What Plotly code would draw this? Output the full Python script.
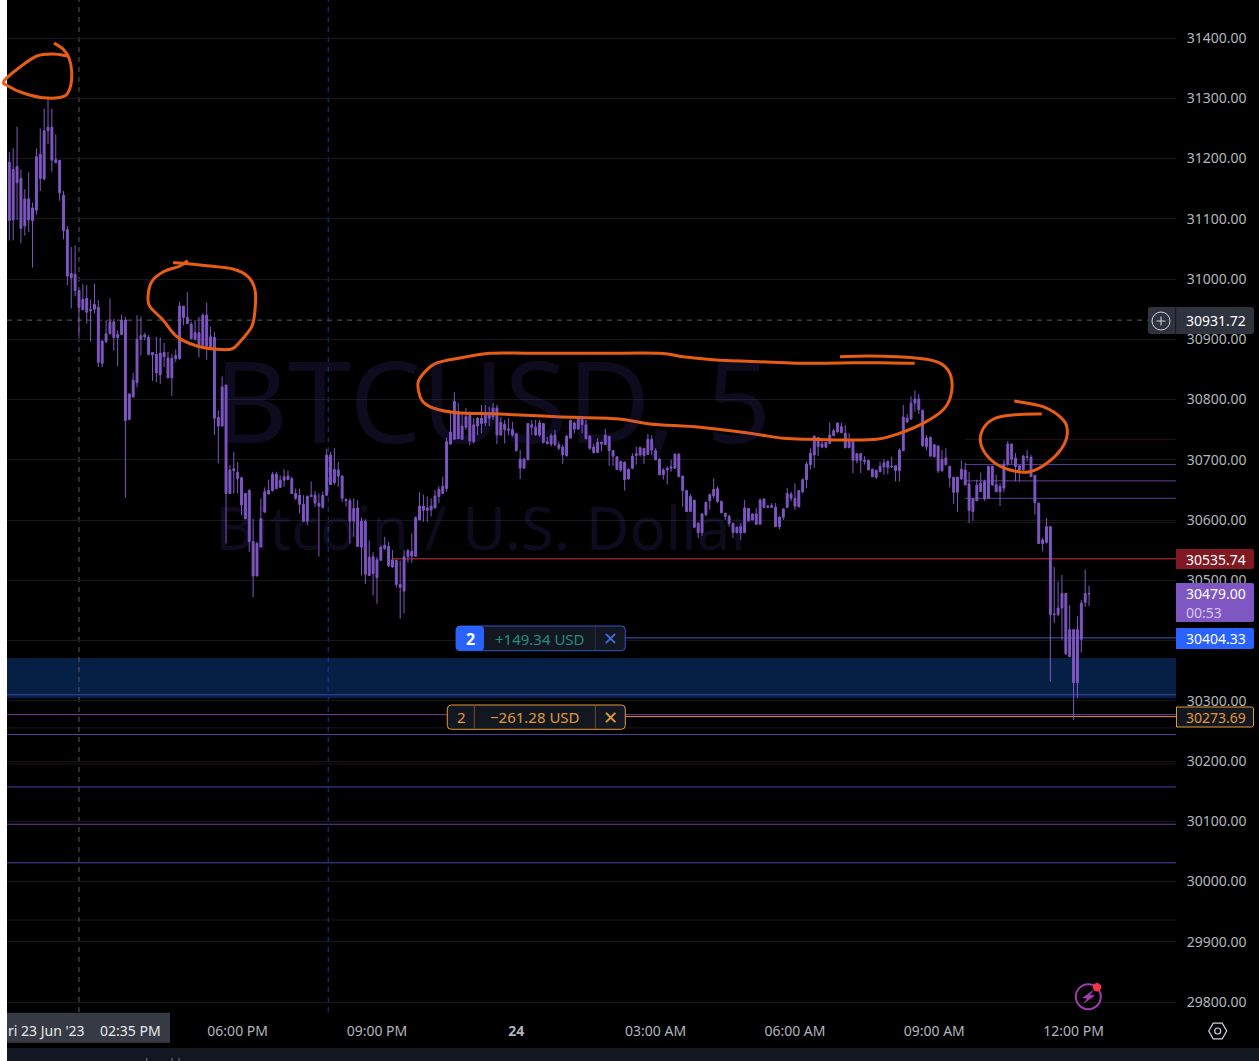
import pandas as pd
import plotly.graph_objects as go

W = 1259
H = 1061

# 5 minute bars. Up and down candles have one colour
# in the picture, so only the top and bottom of each body are kept.
wick_high = [
    31211, 31217, 31253, 31182, 31149, 31177, 31127, 31217, 31250, 31283,
    31300, 31283, 31240, 31197, 31146, 31088, 31053, 31056, 30981, 30992,
    30990, 30966, 30992, 30965, 30898, 30932, 30968, 30934, 30915, 30941,
    30937, 30810, 30844, 30940, 30938, 30911, 30907, 30879, 30904, 30903,
    30894, 30879, 30876, 30883, 30962, 30955, 30978, 30929, 30932, 30937,
    30943, 30961, 30921, 30912, 30782, 30838, 30825, 30691, 30713, 30696,
    30672, 30644, 30651, 30602, 30564, 30636, 30654, 30667, 30680, 30680,
    30674, 30684, 30682, 30672, 30652, 30652, 30641, 30641, 30664, 30648,
    30644, 30647, 30718, 30713, 30719, 30696, 30674, 30636, 30636, 30636,
    30633, 30604, 30601, 30566, 30547, 30539, 30558, 30572, 30564, 30550,
    30534, 30533, 30550, 30552, 30578, 30606, 30646, 30642, 30639, 30636,
    30650, 30656, 30672, 30737, 30780, 30812, 30794, 30780, 30786, 30780,
    30769, 30771, 30791, 30791, 30788, 30794, 30791, 30771, 30766, 30769,
    30763, 30744, 30716, 30703, 30761, 30766, 30766, 30766, 30761, 30738,
    30744, 30750, 30730, 30725, 30741, 30767, 30763, 30773, 30771, 30766,
    30741, 30727, 30736, 30730, 30751, 30739, 30716, 30705, 30699, 30697,
    30686, 30711, 30722, 30722, 30719, 30743, 30741, 30719, 30703, 30686,
    30689, 30700, 30711, 30711, 30673, 30649, 30643, 30633, 30595, 30611,
    30631, 30644, 30669, 30656, 30632, 30612, 30609, 30596, 30589, 30595,
    30633, 30620, 30611, 30620, 30636, 30636, 30625, 30628, 30628, 30606,
    30620, 30653, 30647, 30661, 30650, 30669, 30697, 30719, 30741, 30737,
    30733, 30730, 30762, 30751, 30762, 30761, 30758, 30744, 30730, 30711,
    30711, 30706, 30700, 30686, 30684, 30697, 30701, 30699, 30705, 30690,
    30719, 30791, 30776, 30805, 30815, 30809, 30783, 30741, 30739, 30726,
    30723, 30716, 30719, 30690, 30671, 30672, 30699, 30695, 30680, 30636,
    30667, 30679, 30667, 30690, 30690, 30675, 30661, 30700, 30731, 30727,
    30711, 30692, 30708, 30716, 30708, 30675, 30629, 30570, 30603, 30590,
    30522, 30498, 30509, 30478, 30459, 30418, 30440, 30467, 30518, 30491,
]
wick_low = [
    31064, 31064, 31098, 31059, 31072, 31078, 31019, 31107, 31146, 31164,
    31224, 31178, 31193, 31130, 31066, 30990, 30951, 30971, 30904, 30949,
    30926, 30896, 30943, 30854, 30854, 30893, 30909, 30881, 30855, 30907,
    30637, 30766, 30804, 30820, 30873, 30898, 30873, 30831, 30829, 30826,
    30854, 30835, 30806, 30862, 30866, 30923, 30926, 30900, 30898, 30870,
    30890, 30866, 30885, 30741, 30694, 30755, 30561, 30644, 30644, 30644,
    30608, 30602, 30547, 30472, 30507, 30555, 30613, 30643, 30647, 30652,
    30654, 30655, 30666, 30644, 30633, 30611, 30597, 30591, 30638, 30622,
    30539, 30619, 30641, 30658, 30659, 30655, 30630, 30622, 30561, 30572,
    30555, 30508, 30494, 30508, 30475, 30461, 30533, 30550, 30522, 30521,
    30488, 30436, 30445, 30529, 30529, 30539, 30600, 30597, 30597, 30606,
    30620, 30628, 30647, 30647, 30725, 30733, 30734, 30733, 30750, 30724,
    30727, 30741, 30744, 30756, 30756, 30766, 30726, 30740, 30727, 30741,
    30738, 30714, 30668, 30686, 30699, 30741, 30740, 30738, 30727, 30725,
    30722, 30722, 30716, 30693, 30705, 30736, 30744, 30750, 30744, 30734,
    30716, 30710, 30711, 30714, 30725, 30690, 30690, 30683, 30680, 30649,
    30667, 30684, 30692, 30705, 30693, 30708, 30708, 30699, 30675, 30667,
    30659, 30680, 30686, 30671, 30622, 30614, 30614, 30586, 30570, 30573,
    30606, 30617, 30636, 30628, 30611, 30600, 30589, 30570, 30578, 30567,
    30579, 30597, 30600, 30592, 30593, 30620, 30620, 30620, 30589, 30585,
    30600, 30620, 30631, 30617, 30621, 30644, 30653, 30684, 30686, 30706,
    30719, 30719, 30727, 30739, 30745, 30744, 30719, 30719, 30678, 30694,
    30678, 30692, 30683, 30671, 30668, 30680, 30675, 30676, 30686, 30664,
    30664, 30715, 30761, 30766, 30780, 30776, 30722, 30716, 30705, 30704,
    30678, 30680, 30690, 30654, 30627, 30614, 30667, 30658, 30595, 30599,
    30631, 30647, 30632, 30636, 30657, 30646, 30623, 30646, 30689, 30693,
    30664, 30664, 30683, 30697, 30671, 30609, 30560, 30548, 30561, 30332,
    30429, 30440, 30401, 30376, 30372, 30268, 30304, 30380, 30456, 30457,
]
body_top = [
    31194, 31182, 31187, 31167, 31133, 31133, 31118, 31203, 31207, 31246,
    31252, 31252, 31198, 31197, 31139, 31082, 31009, 31008, 30981, 30966,
    30968, 30949, 30958, 30953, 30897, 30909, 30929, 30929, 30908, 30932,
    30932, 30809, 30832, 30900, 30906, 30907, 30903, 30878, 30875, 30877,
    30878, 30869, 30868, 30873, 30955, 30955, 30936, 30925, 30911, 30911,
    30940, 30940, 30904, 30903, 30770, 30821, 30824, 30683, 30685, 30679,
    30670, 30644, 30649, 30564, 30561, 30602, 30647, 30649, 30676, 30676,
    30666, 30672, 30673, 30669, 30644, 30641, 30626, 30639, 30641, 30641,
    30628, 30641, 30708, 30708, 30684, 30683, 30673, 30634, 30632, 30619,
    30620, 30598, 30598, 30538, 30539, 30534, 30555, 30558, 30556, 30534,
    30533, 30493, 30539, 30549, 30548, 30604, 30623, 30623, 30620, 30623,
    30640, 30651, 30656, 30730, 30746, 30797, 30780, 30756, 30772, 30774,
    30758, 30769, 30769, 30774, 30774, 30786, 30786, 30762, 30759, 30751,
    30750, 30743, 30701, 30701, 30760, 30758, 30754, 30761, 30760, 30730,
    30740, 30741, 30725, 30721, 30739, 30765, 30761, 30771, 30767, 30758,
    30739, 30721, 30729, 30729, 30741, 30739, 30715, 30705, 30697, 30696,
    30684, 30706, 30710, 30720, 30719, 30734, 30734, 30715, 30701, 30683,
    30686, 30688, 30709, 30709, 30673, 30649, 30639, 30633, 30595, 30610,
    30629, 30642, 30651, 30652, 30631, 30611, 30606, 30594, 30588, 30589,
    30620, 30619, 30610, 30610, 30633, 30635, 30623, 30624, 30621, 30605,
    30618, 30644, 30643, 30636, 30649, 30667, 30693, 30711, 30739, 30737,
    30726, 30729, 30741, 30748, 30761, 30755, 30744, 30733, 30730, 30710,
    30710, 30699, 30699, 30684, 30682, 30689, 30695, 30697, 30689, 30690,
    30716, 30771, 30769, 30794, 30801, 30801, 30782, 30736, 30737, 30725,
    30723, 30701, 30703, 30689, 30671, 30671, 30684, 30683, 30660, 30635,
    30658, 30661, 30664, 30689, 30689, 30659, 30656, 30693, 30726, 30726,
    30703, 30690, 30706, 30705, 30704, 30674, 30628, 30567, 30589, 30589,
    30444, 30454, 30478, 30478, 30418, 30418, 30418, 30462, 30478, 30478,
]
body_bottom = [
    31097, 31098, 31160, 31084, 31088, 31098, 31097, 31114, 31167, 31166,
    31246, 31197, 31193, 31143, 31080, 31005, 31002, 30981, 30953, 30949,
    30945, 30947, 30950, 30862, 30860, 30896, 30909, 30903, 30903, 30908,
    30765, 30767, 30804, 30828, 30900, 30904, 30875, 30874, 30844, 30841,
    30871, 30836, 30836, 30868, 30868, 30936, 30926, 30901, 30900, 30890,
    30890, 30889, 30887, 30769, 30756, 30756, 30644, 30644, 30682, 30669,
    30625, 30602, 30564, 30507, 30507, 30555, 30613, 30643, 30649, 30652,
    30654, 30666, 30667, 30644, 30636, 30626, 30598, 30598, 30639, 30628,
    30623, 30621, 30641, 30659, 30662, 30673, 30636, 30632, 30598, 30598,
    30556, 30555, 30510, 30508, 30511, 30504, 30533, 30553, 30524, 30522,
    30493, 30488, 30482, 30539, 30540, 30540, 30600, 30616, 30616, 30617,
    30620, 30639, 30644, 30652, 30726, 30734, 30735, 30734, 30754, 30731,
    30730, 30756, 30760, 30761, 30769, 30771, 30741, 30741, 30750, 30749,
    30741, 30715, 30686, 30686, 30700, 30754, 30741, 30741, 30729, 30727,
    30726, 30725, 30719, 30708, 30707, 30736, 30751, 30751, 30758, 30735,
    30719, 30712, 30712, 30726, 30725, 30715, 30706, 30684, 30683, 30667,
    30668, 30686, 30707, 30708, 30707, 30709, 30716, 30700, 30675, 30675,
    30683, 30686, 30686, 30672, 30649, 30614, 30614, 30588, 30579, 30579,
    30609, 30632, 30640, 30631, 30612, 30606, 30594, 30579, 30579, 30579,
    30579, 30599, 30600, 30593, 30593, 30621, 30621, 30621, 30589, 30589,
    30604, 30621, 30636, 30623, 30622, 30647, 30667, 30692, 30708, 30722,
    30721, 30721, 30727, 30740, 30746, 30745, 30720, 30720, 30699, 30699,
    30699, 30697, 30683, 30672, 30671, 30680, 30688, 30687, 30688, 30682,
    30682, 30715, 30763, 30768, 30794, 30783, 30723, 30722, 30706, 30705,
    30682, 30682, 30692, 30670, 30646, 30646, 30668, 30658, 30616, 30614,
    30632, 30647, 30635, 30636, 30658, 30647, 30647, 30653, 30693, 30701,
    30689, 30683, 30683, 30704, 30672, 30629, 30561, 30561, 30563, 30443,
    30443, 30443, 30454, 30378, 30373, 30330, 30330, 30402, 30463, 30477,
]
times = pd.date_range("2023-06-23 13:05", periods=len(wick_high), freq="5min")

time_ticks = ["2023-06-23 18:00", "2023-06-23 21:00", "2023-06-24 00:00", "2023-06-24 03:00",
              "2023-06-24 06:00", "2023-06-24 09:00", "2023-06-24 12:00"]
time_labels = ["06:00 PM", "09:00 PM", "<b>24</b>", "03:00 AM", "06:00 AM", "09:00 AM", "12:00 PM"]

crosshair_price = 30931.72
stop_price = 30535.74
last_price = 30479.00
countdown = "00:53"
profit_price = 30404.33
loss_price = 30273.69
qty = "2"
profit_text = "+149.34 USD"
loss_text = "\u2212261.28 USD"

zone_top = 30371
zone_bottom = 30304
full_levels = [30310, 30277, 30244, 30157, 30095, 30031]
full_colors = ["#4743a8", "#76409c", "#54409f", "#4744a8", "#6b3a98", "#4744a8"]
faint_levels = [30255, 30195, 29936]
short_levels = [30692, 30665, 30636]
short_colors = ["#54429f", "#5f429f", "#54429f"]
short_faint_levels = [30734, 30596]

BG = "#000000"
PANEL = "#131722"
LABEL = "#b2b5be"
PURPLE = "#7e57c2"
RED = "#801922"
BLUE = "#2962ff"
ORANGE = "#e09a35"
INK = "#e85d14"
FONT = "Noto Sans"

PLOT_L, PLOT_R, PLOT_B = 7, 1176, 1012


def fx(x):
    return x / W


def fy(y):
    return 1 - y / H


def box(x0, y0, x1, y1, fill, line=None, r=3, r_left=None):
    # rounded rectangle given in screen pixels
    rl = r if r_left is None else r_left
    p = (f"M {fx(x0 + rl)} {fy(y0)} L {fx(x1 - r)} {fy(y0)} Q {fx(x1)} {fy(y0)} {fx(x1)} {fy(y0 + r)} "
         f"L {fx(x1)} {fy(y1 - r)} Q {fx(x1)} {fy(y1)} {fx(x1 - r)} {fy(y1)} "
         f"L {fx(x0 + rl)} {fy(y1)} Q {fx(x0)} {fy(y1)} {fx(x0)} {fy(y1 - rl)} "
         f"L {fx(x0)} {fy(y0 + rl)} Q {fx(x0)} {fy(y0)} {fx(x0 + rl)} {fy(y0)} Z")
    return dict(type="path", path=p, xref="paper", yref="paper", fillcolor=fill, layer="above",
                line=dict(color=line, width=1) if line else dict(width=0))


def seg(x0, y0, x1, y1, color, width=1):
    return dict(type="line", xref="paper", yref="paper", x0=fx(x0), y0=fy(y0), x1=fx(x1), y1=fy(y1),
                layer="above", line=dict(color=color, width=width))


def circle(cx, cy, r, line=None, fill=None, width=1.5):
    return dict(type="circle", xref="paper", yref="paper", x0=fx(cx - r), x1=fx(cx + r), y0=fy(cy - r), y1=fy(cy + r),
                layer="above", fillcolor=fill, line=dict(color=line, width=width) if line else dict(width=0))


def poly(points, color, width=1.0, fill=None):
    p = "M " + " L ".join(f"{fx(x)} {fy(y)}" for x, y in points) + " Z"
    return dict(type="path", path=p, xref="paper", yref="paper", layer="above", fillcolor=fill,
                line=dict(color=color, width=width) if width else dict(width=0))


def ink(points):
    # hand drawn marker stroke, smoothed through its points (Catmull-Rom)
    p = f"M {fx(points[0][0])} {fy(points[0][1])}"
    for i in range(len(points) - 1):
        a = points[max(i - 1, 0)]
        b = points[i]
        c = points[i + 1]
        d = points[min(i + 2, len(points) - 1)]
        c1 = (b[0] + (c[0] - a[0]) / 6, b[1] + (c[1] - a[1]) / 6)
        c2 = (c[0] - (d[0] - b[0]) / 6, c[1] - (d[1] - b[1]) / 6)
        p += f" C {fx(c1[0])} {fy(c1[1])} {fx(c2[0])} {fy(c2[1])} {fx(c[0])} {fy(c[1])}"
    return dict(type="path", path=p, xref="paper", yref="paper", layer="above",
                line=dict(color=INK, width=3))


def text(x, y, s, color=LABEL, size=14, anchor="center", font=FONT):
    return dict(xref="paper", yref="paper", x=fx(x), y=fy(y), text=s, showarrow=False, xanchor=anchor,
                yanchor="middle", font=dict(family=font, size=size, color=color), borderpad=0)


def price_line(price, color, width=1, x0=None):
    if x0 is None:
        return dict(type="line", xref="x domain", yref="y", x0=0, x1=1, y0=price, y1=price, layer="below",
                    line=dict(color=color, width=width))
    return dict(type="line", xref="x domain", yref="y", x0=x0, x1=1, y0=price, y1=price, layer="below",
                line=dict(color=color, width=width))


fig = go.Figure(go.Candlestick(
    x=times, open=body_bottom, close=body_top, high=wick_high, low=wick_low,
    increasing=dict(fillcolor=PURPLE, line=dict(color=PURPLE, width=1)),
    decreasing=dict(fillcolor=PURPLE, line=dict(color=PURPLE, width=1)),
    whiskerwidth=0, showlegend=False))

shapes = []
# blue zone and all the horizontal levels, behind the candles
shapes.append(dict(type="rect", xref="x domain", yref="y", x0=0, x1=1, y0=zone_bottom, y1=zone_top, layer="below",
                   fillcolor="#051f45", line=dict(width=0)))
for lvl, c in zip(full_levels, full_colors):
    shapes.append(price_line(lvl, c))
for lvl in faint_levels:
    shapes.append(price_line(lvl, "#241414"))
for lvl, c in zip(short_levels, short_colors):
    shapes.append(price_line(lvl, c, x0=(965 - PLOT_L) / (PLOT_R - PLOT_L)))
for lvl in short_faint_levels:
    shapes.append(price_line(lvl, "#241414", x0=(965 - PLOT_L) / (PLOT_R - PLOT_L)))
shapes.append(price_line(stop_price, "#8a2229", 1.5, x0=(392 - PLOT_L) / (PLOT_R - PLOT_L)))
shapes.append(price_line(profit_price, "#3f5fc4", 1, x0=(625 - PLOT_L) / (PLOT_R - PLOT_L)))
shapes.append(price_line(loss_price, ORANGE, 1, x0=(625 - PLOT_L) / (PLOT_R - PLOT_L)))

# crosshair and session line
shapes.append(dict(type="line", xref="x domain", yref="y", x0=0, x1=(1148 - PLOT_L) / (PLOT_R - PLOT_L),
                   y0=crosshair_price, y1=crosshair_price, layer="below",
                   line=dict(color="#5a5d66", width=1, dash="5px,5px")))
shapes.append(dict(type="line", xref="x", yref="y domain", x0="2023-06-23 14:35", x1="2023-06-23 14:35", y0=0, y1=1,
                   layer="below", line=dict(color="#5a5d66", width=1, dash="5px,5px")))
shapes.append(dict(type="line", xref="x", yref="y domain", x0="2023-06-23 19:57", x1="2023-06-23 19:57", y0=0, y1=1,
                   layer="below", line=dict(color="#23349a", width=1, dash="5px,5px")))

# white strip on the left and the panel along the bottom
shapes.append(dict(type="rect", xref="paper", yref="paper", x0=0, x1=fx(PLOT_L), y0=0, y1=1, layer="above",
                   fillcolor="#ffffff", line=dict(width=0)))
shapes.append(dict(type="rect", xref="paper", yref="paper", x0=fx(PLOT_L), x1=1, y0=0, y1=fy(1048), layer="above",
                   fillcolor=PANEL, line=dict(width=0)))
shapes.append(seg(146.7, 1058, 146.7, 1061, "#787b86"))
shapes.append(seg(172, 1058, 172, 1061, "#787b86"))
shapes.append(seg(179, 1058, 179, 1061, "#787b86"))

# hand drawn circles, the first one runs over the white strip
shapes.append(ink([(54, 43), (63, 49), (69, 58), (71.7, 72), (70, 88), (63, 96.7), (43, 97.7), (23, 93), (8, 86), (4, 81),
                   (20, 67), (37, 56), (53, 54), (67, 56)]))
shapes.append(ink([(173, 262.7), (183, 263.3), (207, 265.7), (233, 269), (248, 276.7), (255, 290), (255, 310),
                   (251.7, 326.7), (240, 341.7), (231.7, 349), (217, 349.3), (197, 346), (177, 336.7), (163, 320),
                   (150, 306.7), (148, 296.7), (151.7, 281.7), (163, 272), (180, 266), (187.7, 260.7)]))
shapes.append(ink([(914.7, 363.3), (880, 362.7), (840, 363), (800, 363.3), (766.7, 362), (716.7, 360), (683, 356.7),
                   (660, 353.3), (600, 353.3), (533, 353.3), (490, 353.3), (460, 358), (436.7, 363), (425, 371.7),
                   (418, 383), (421.7, 400), (433, 408), (456.7, 412.7), (500, 414), (556.7, 416.7), (616.7, 418.7),
                   (650, 424), (700, 427.3), (750, 433.3), (783, 438.3), (813, 439.3), (846.7, 440), (876.7, 439.3),
                   (896.7, 434.3), (923, 423.3), (943, 410), (951, 395), (951, 376.7), (943, 365), (926.7, 359.3),
                   (896.7, 356.7), (866.7, 356), (840, 356.7)]))
shapes.append(ink([(1041.7, 414), (1013, 415), (993, 419.3), (981.7, 431.7), (981.7, 446.7), (993, 461.7), (1010, 470),
                   (1030, 471.7), (1046.7, 463.3), (1061.7, 448.3), (1067.3, 433.3), (1063.3, 420), (1043, 406.7),
                   (1014.3, 401)]))

# price scale labels
shapes.append(box(1148, 307, 1254, 334, "#2f333e", r=3))
shapes.append(seg(1175.7, 307, 1175.7, 334, "#14171e"))
shapes.append(circle(1161, 321, 9, line="#d1d4dc", width=1))
shapes.append(seg(1156.5, 321, 1165.5, 321, "#d1d4dc"))
shapes.append(seg(1161, 316.5, 1161, 325.5, "#d1d4dc"))
shapes.append(box(1176, 549, 1254, 569, RED, r=2, r_left=0))
shapes.append(box(1176, 583, 1254, 622, PURPLE, r=2, r_left=0))
shapes.append(box(1176, 628, 1254, 649, BLUE, r=2, r_left=0))
shapes.append(box(1176.5, 707, 1253.5, 727, PANEL, line=ORANGE, r=2, r_left=0))

# order tags
shapes.append(box(456, 626, 625.3, 650.7, PANEL, line="#3056c8", r=4))
shapes.append(box(456, 626, 484, 650.7, BLUE, r=4))
shapes.append(seg(595.3, 626, 595.3, 650.7, "#2b3040"))
shapes.append(box(447.3, 705, 625.3, 729.3, PANEL, line=ORANGE, r=4))
shapes.append(seg(474.3, 705, 474.3, 729.3, "#6b5330"))
shapes.append(seg(595.3, 705, 595.3, 729.3, "#6b5330"))

# time scale label
shapes.append(dict(type="rect", xref="paper", yref="paper", x0=fx(PLOT_L), x1=fx(170), y0=fy(1042.7), y1=fy(1012.7),
                   layer="above", fillcolor="#363a45", line=dict(width=0)))

# icons: settings hexagon, lightning badge
shapes.append(poly([(1208.7, 1031), (1213.2, 1023.2), (1222.2, 1023.2), (1226.7, 1031), (1222.2, 1038.8), (1213.2, 1038.8)],
                   "#d1d4dc", width=1.2))
shapes.append(circle(1217.7, 1031, 3, line="#d1d4dc", width=1.2))
shapes.append(circle(1088.3, 996.7, 12.5, line="#a03bb0", width=2))
shapes.append(poly([(1094, 989.5), (1082, 998), (1087, 998.5), (1083, 1004), (1095, 995.5), (1090, 995)], "#a03bb0", width=0,
                   fill="#a03bb0"))
shapes.append(circle(1097, 987.3, 4.2, fill="#f23645"))

annotations = [
    # watermark, low alpha so that the candles still read through it
    text(492, 398, "BTCUSD, 5", color="rgba(94,75,200,0.15)", size=114),
    text(485, 527, "Bitcoin / U.S. Dollar", color="rgba(94,75,200,0.15)", size=60),
    text(1216, 321, f"{crosshair_price:.2f}", color="#ffffff"),
    text(1216, 559, f"{stop_price:.2f}", color="#ffffff"),
    text(1216, 593, f"{last_price:.2f}", color="#ffffff"),
    text(1204, 612, countdown, color="#d5c9ee"),
    text(1216, 638.5, f"{profit_price:.2f}", color="#ffffff"),
    text(1216, 717, f"{loss_price:.2f}", color=ORANGE),
    text(470, 638.5, f"<b>{qty}</b>", color="#ffffff", size=16),
    text(539.5, 638.5, profit_text, color="#1f8f7c", size=15),
    text(610.5, 638.5, "\u2715", color="#3f6ad8", size=18, font="DejaVu Sans"),
    text(461, 717, qty, color=ORANGE, size=15),
    text(534.5, 717, loss_text, color=ORANGE, size=15),
    text(610.5, 717, "\u2715", color=ORANGE, size=18, font="DejaVu Sans"),
    text(7, 1030, "ri 23 Jun '23", color="#e8e9ec", anchor="left"),
    text(99, 1030, "02:35 PM", color="#e8e9ec", anchor="left"),
]

fig.update_layout(
    width=W, height=H, margin=dict(l=0, r=0, t=0, b=0),
    paper_bgcolor=BG, plot_bgcolor=BG, showlegend=False,
    font=dict(family=FONT, size=14, color=LABEL),
    shapes=shapes, annotations=annotations,
    xaxis=dict(type="date", domain=[fx(PLOT_L), fx(PLOT_R)], range=["2023-06-23 13:02", "2023-06-24 14:12:20"],
               rangeslider=dict(visible=False), showgrid=False, zeroline=False, showline=False,
               tickmode="array", tickvals=time_ticks, ticktext=time_labels,
               ticks="outside", ticklen=6, tickcolor="rgba(0,0,0,0)", tickfont=dict(size=14, color=LABEL)),
    yaxis=dict(side="right", anchor="x", domain=[1 - PLOT_B / H, 1], range=[29783.4, 31463.1],
               dtick=100, tick0=0, tickformat=".2f", showgrid=True, gridcolor="#15171c", gridwidth=1,
               zeroline=False, showline=False, ticks="outside", ticklen=7, tickcolor="rgba(0,0,0,0)",
               tickfont=dict(size=14, color=LABEL)),
)

fig.write_html("out.html", config={"displayModeBar": False},
               post_script="document.body.style.margin='0';document.body.style.overflow='hidden';document.body.style.background='#000';")
